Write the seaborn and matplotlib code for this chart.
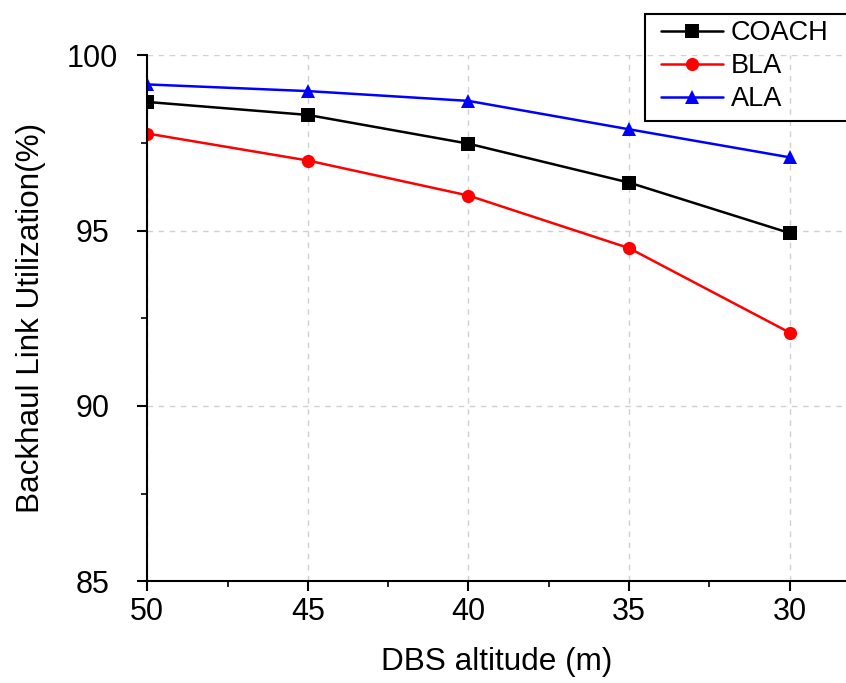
import numpy as np
import pandas as pd
import seaborn as sns
import matplotlib.pyplot as plt
from matplotlib.lines import Line2D
from matplotlib.ticker import MultipleLocator

# values
altitude = [50, 45, 40, 35, 30]
coach = [98.67, 98.30, 97.48, 96.37, 94.93]
bla = [97.77, 97.00, 96.00, 94.50, 92.09]
ala = [99.17, 98.98, 98.70, 97.89, 97.09]

methods = ['COACH', 'BLA', 'ALA']
colors = {'COACH': 'black', 'BLA': 'red', 'ALA': 'blue'}
markers = {'COACH': 's', 'BLA': 'o', 'ALA': '^'}

df = pd.DataFrame({'alt': altitude, 'COACH': coach, 'BLA': bla, 'ALA': ala})
df = df.melt(id_vars='alt', var_name='method', value_name='util')

sns.set_style('ticks')
plt.rcParams['font.family'] = ['Liberation Sans', 'DejaVu Sans']
plt.rcParams['text.color'] = 'black'
plt.rcParams['axes.labelcolor'] = 'black'

fig = plt.figure(figsize=(8.46, 6.83), dpi=100)
ax = fig.add_axes([0.174, 0.149, 0.826, 0.770])

sns.lineplot(data=df, x='alt', y='util', hue='method', style='method',
             hue_order=methods, style_order=methods, palette=colors,
             markers=markers, dashes=False, markersize=9.5,
             markeredgewidth=0, linewidth=1.8, ax=ax)

ax.set_xlim(50, 28.25)
ax.set_ylim(85, 100)
ax.xaxis.set_major_locator(MultipleLocator(5))
ax.xaxis.set_minor_locator(MultipleLocator(2.5))
ax.yaxis.set_major_locator(MultipleLocator(5))
ax.yaxis.set_minor_locator(MultipleLocator(2.5))

ax.grid(True, which='major', ls=(0, (4, 4)), color='#d0d0d0', lw=1.0)
ax.set_axisbelow(True)

sns.despine(ax=ax)
for s in ['left', 'bottom']:
    ax.spines[s].set_linewidth(1.5)
    ax.spines[s].set_color('black')

ax.tick_params(which='major', length=7.5, width=1.5, direction='out', labelsize=22, colors='black')
ax.tick_params(which='minor', length=4.3, width=1.2, direction='out', colors='black')
# y tick labels are centred in the reference
ax.tick_params(axis='y', which='major', pad=32)
for t in ax.get_yticklabels():
    t.set_horizontalalignment('center')

ax.set_xlabel('DBS altitude (m)', fontsize=22.7, labelpad=15)
ax.set_ylabel('Backhaul Link Utilization(%)', fontsize=22.7, labelpad=15)

# legend without its own frame, the box is cut by the right edge
old = ax.get_legend()
handles = old.legend_handles
labels = [t.get_text() for t in old.get_texts()]
old.remove()
leg = ax.legend(handles, labels, loc='upper left',
                bbox_to_anchor=(0.7813, 0.970), bbox_transform=fig.transFigure,
                frameon=False, fontsize=19.5, handlelength=2.3,
                labelspacing=0.25, borderpad=0, handletextpad=0.27,
                borderaxespad=0)
x0, top, bottom = 645 / 846, 1 - 14 / 683, 1 - 121 / 683
fig.add_artist(Line2D([1.0, x0, x0, 1.0], [top, top, bottom, bottom],
                      transform=fig.transFigure, color='black', lw=1.5,
                      solid_joinstyle='miter'))

fig.savefig('out.png', dpi=100)
